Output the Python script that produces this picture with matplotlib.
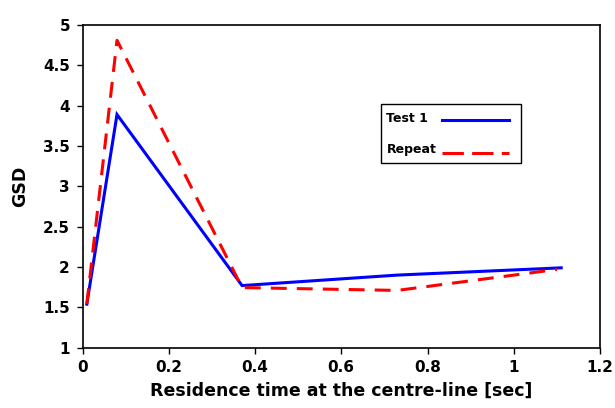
import matplotlib
matplotlib.use("Agg")
import matplotlib.pyplot as plt
from matplotlib.patches import Rectangle
from matplotlib.lines import Line2D

time_test1 = [0.01, 0.08, 0.37, 0.73, 1.11]
gsd_test1 = [1.54, 3.89, 1.77, 1.90, 1.99]
time_repeat = [0.01, 0.08, 0.37, 0.73, 1.10]
gsd_repeat = [1.54, 4.81, 1.745, 1.71, 1.97]
series_names = ["Test 1", "Repeat"]
xticks = [0, 0.2, 0.4, 0.6, 0.8, 1, 1.2]
xticklabels = ["0", "0.2", "0.4", "0.6", "0.8", "1", "1.2"]
yticks = [1, 1.5, 2, 2.5, 3, 3.5, 4, 4.5, 5]
yticklabels = ["1", "1.5", "2", "2.5", "3", "3.5", "4", "4.5", "5"]

plt.rcParams['font.family'] = ['DejaVu Sans']
W, H = 615, 408
fig = plt.figure(figsize=(W/100, H/100), dpi=100)
ax = fig.add_axes([82.5/W, 1 - 347.7/H, (600-82.5)/W, (347.7-25)/H])

ax.plot(time_test1, gsd_test1, color='#0000ff', lw=2.2, solid_joinstyle='miter')
ax.plot(time_repeat, gsd_repeat, color='#ff0000', lw=2.2, dashes=(5.2, 3.3))

ax.set_xlim(0, 1.2)
ax.set_ylim(1, 5)
ax.set_xticks(xticks)
ax.set_xticklabels(xticklabels, fontsize=11, fontweight='bold')
ax.set_yticks(yticks)
ax.set_yticklabels(yticklabels, fontsize=11, fontweight='bold')
ax.tick_params(axis='x', direction='out', length=4, width=1, colors='black', pad=5)
ax.tick_params(axis='y', direction='out', length=4, width=1, colors='black', pad=5)
for s in ax.spines.values():
    s.set_linewidth(1.2)
    s.set_color('black')

ax.set_xlabel('Residence time at the centre-line [sec]', fontsize=12.5, fontweight='bold', labelpad=5)
ax.set_ylabel('GSD', fontsize=12.5, fontweight='bold', labelpad=10)

# legend (handles to the right of labels, as in the reference)
def fx(px):
    return px / W
def fy(py):
    return 1 - py / H

fig.add_artist(Rectangle((fx(381), fy(163)), fx(521) - fx(381), fy(104) - fy(163),
                         transform=fig.transFigure, fill=False, edgecolor='black', lw=1.0))
fig.text(fx(386.5), fy(118.5), series_names[0], fontsize=9, fontweight='bold', va='center', ha='left')
fig.text(fx(386.5), fy(150), series_names[1], fontsize=9, fontweight='bold', va='center', ha='left')
fig.add_artist(Line2D([fx(442), fx(509)], [fy(120.3), fy(120.3)], transform=fig.transFigure,
                      color='#0000ff', lw=2.2))
fig.add_artist(Line2D([fx(442), fx(509)], [fy(152.7), fy(152.7)], transform=fig.transFigure,
                      color='#ff0000', lw=2.2, dashes=(7, 2.7)))

fig.savefig('out.png', dpi=100)
